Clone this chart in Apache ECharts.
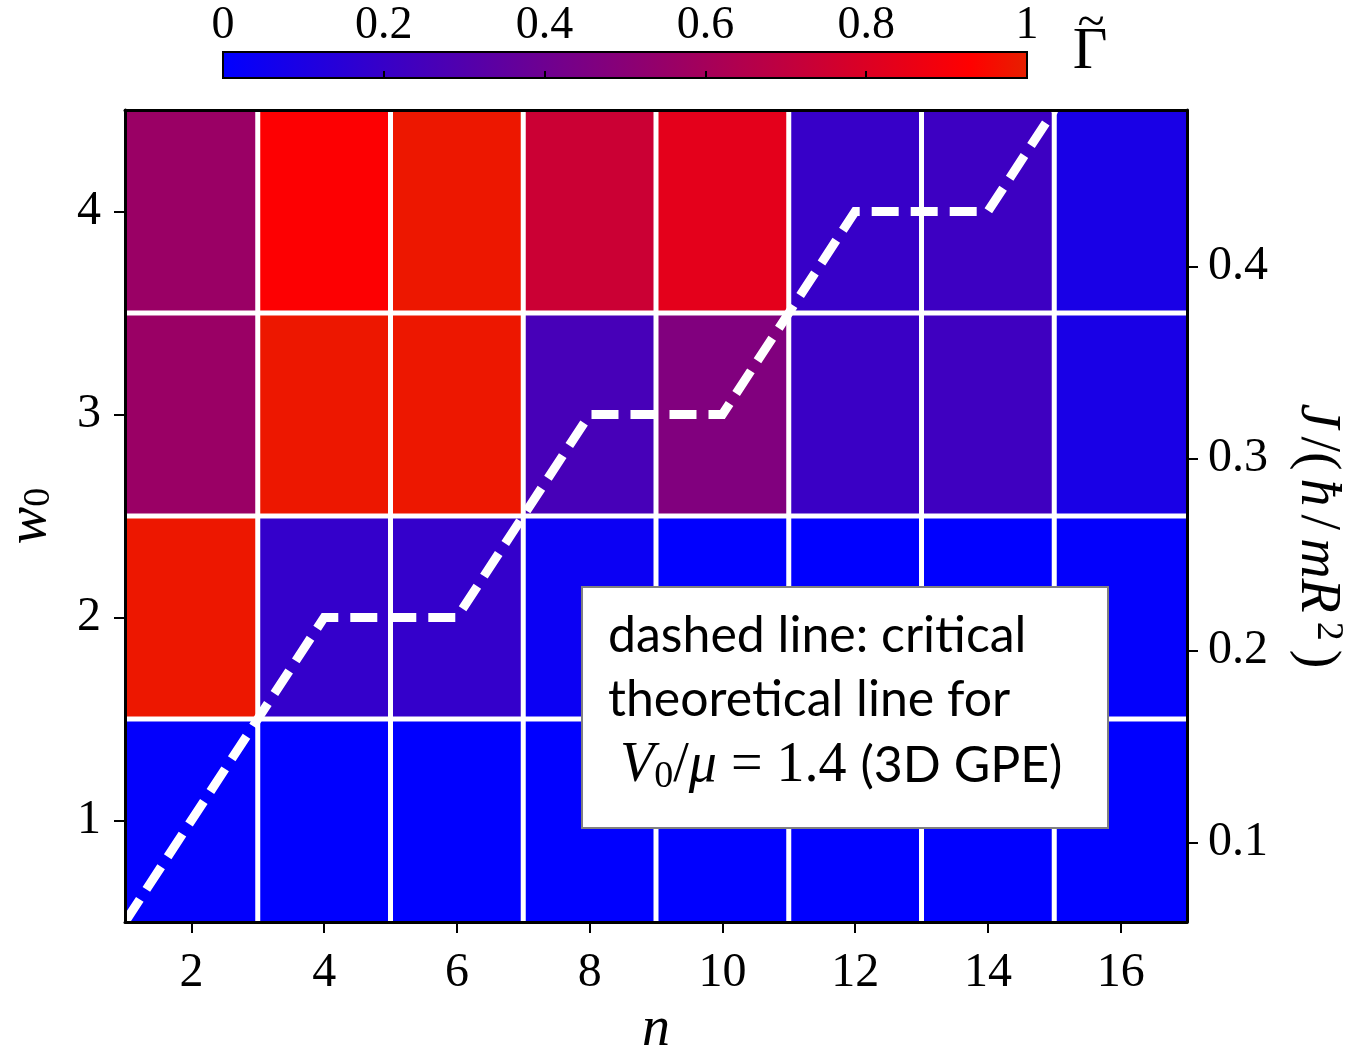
<!DOCTYPE html>
<html>
<head>
<meta charset="utf-8">
<script src="https://cdn.jsdelivr.net/npm/echarts@6/dist/echarts.min.js"></script>
<style>
html, body { margin: 0; padding: 0; background: #fff; }
#chart { width: 1350px; height: 1047px; }
</style>
</head>
<body>
<div id="chart"></div>
<script>
// cell centres
const nValues = [2, 4, 6, 8, 10, 12, 14, 16]
const w0Values = [1, 2, 3, 4]
// Gamma tilde per row of w0
const gammaW1 = [0.01, 0.0, 0.0, 0.0, 0.0, 0.0, 0.0, 0.0]
const gammaW2 = [0.98, 0.19, 0.19, 0.04, 0.005, 0.0, 0.0, 0.01]
const gammaW3 = [0.56, 0.98, 0.98, 0.26, 0.47, 0.21, 0.23, 0.09]
const gammaW4 = [0.56, 0.92, 0.98, 0.74, 0.83, 0.20, 0.22, 0.09]
// critical theoretical line, V0/mu = 1.4 (3D GPE)
const lineN = [1, 4, 6, 8, 10, 12, 14, 15]
const lineW0 = [0.5, 2, 2, 3, 3, 4, 4, 4.5]
// ticks
const xTicks = [2, 4, 6, 8, 10, 12, 14, 16]
const yTicks = [1, 2, 3, 4]
const jTicks = [0.1, 0.2, 0.3, 0.4]

const X_MIN = 1, X_MAX = 17, Y_MIN = 0.5, Y_MAX = 4.5
const SERIF = "'Liberation Serif', 'Times New Roman', serif"

// blue -> red, then a touch of orange at the very top
const cmap = []
for (let i = 0; i <= 13; i++) {
  const r = Math.round(255 * i / 13)
  cmap.push('rgb(' + r + ',0,' + (255 - r) + ')')
}
cmap.push('#e62000')

const gradient = new echarts.graphic.LinearGradient(0, 0, 1, 0,
  cmap.map((c, i) => ({ offset: i / (cmap.length - 1), color: c })))

const rows = [gammaW1, gammaW2, gammaW3, gammaW4]
const cells = []
rows.forEach((row, j) => {
  row.forEach((v, i) => cells.push([nValues[i], w0Values[j], v]))
})
const linePts = lineN.map((n, i) => [n, lineW0[i]])

function renderCell (params, api) {
  const n = api.value(0)
  const w = api.value(1)
  const p0 = api.coord([n - 1, w + 0.5])
  const p1 = api.coord([n + 1, w - 0.5])
  const gap = 2.5
  const l = n - 1 <= X_MIN ? p0[0] : p0[0] + gap
  const r = n + 1 >= X_MAX ? p1[0] : p1[0] - gap
  const t = w + 0.5 >= Y_MAX ? p0[1] : p0[1] + gap
  const b = w - 0.5 <= Y_MIN ? p1[1] : p1[1] - gap
  return {
    type: 'rect',
    shape: { x: l, y: t, width: r - l, height: b - t },
    style: { fill: api.visual('color') }
  }
}

function renderColorbar (params, api) {
  const a = api.coord([0, 1])
  const b = api.coord([1, 0])
  return {
    type: 'rect',
    shape: { x: a[0], y: a[1], width: b[0] - a[0], height: b[1] - a[1] },
    style: { fill: gradient, stroke: '#000', lineWidth: 2 }
  }
}

const tickFont = { fontFamily: SERIF, fontSize: 48, color: '#000' }
const frame = { show: true, lineStyle: { color: '#000', width: 3 } }
const ticks = (vals) => ({ show: true, customValues: vals, length: 11, lineStyle: { color: '#000', width: 2 } })

const option = {
  animation: false,
  backgroundColor: '#fff',
  textStyle: { fontFamily: SERIF },
  grid: [
    { left: 125, right: 163, top: 110, bottom: 125, outerBoundsMode: 'none' },
    { left: 223, width: 804, top: 52, height: 26, outerBoundsMode: 'none' }
  ],
  visualMap: {
    show: false,
    type: 'continuous',
    min: 0,
    max: 1,
    dimension: 2,
    seriesIndex: 0,
    inRange: { color: cmap }
  },
  xAxis: [
    {
      type: 'value', gridIndex: 0, min: X_MIN, max: X_MAX, z: 10,
      axisLine: frame,
      axisTick: ticks(xTicks),
      axisLabel: Object.assign({ customValues: xTicks, margin: 27 }, tickFont),
      splitLine: { show: false },
      name: 'n',
      nameLocation: 'middle',
      nameGap: 72,
      nameTextStyle: { fontFamily: SERIF, fontStyle: 'italic', fontSize: 56, color: '#000' }
    },
    {
      type: 'value', gridIndex: 0, position: 'top', min: X_MIN, max: X_MAX, z: 10,
      axisLine: frame,
      axisTick: { show: false },
      axisLabel: { show: false },
      splitLine: { show: false }
    },
    {
      type: 'value', gridIndex: 1, position: 'top', min: 0, max: 1, interval: 0.2, z: 10,
      axisLine: { show: false },
      axisTick: { show: true, length: 7, lineStyle: { color: '#000', width: 2 } },
      axisLabel: Object.assign({ margin: 3 }, tickFont, { fontSize: 46 }),
      splitLine: { show: false }
    }
  ],
  yAxis: [
    {
      type: 'value', gridIndex: 0, min: Y_MIN, max: Y_MAX, z: 10,
      axisLine: frame,
      axisTick: ticks(yTicks),
      axisLabel: Object.assign({ customValues: yTicks, margin: 24 }, tickFont),
      splitLine: { show: false },
      name: '{w|w}{s|0}',
      nameLocation: 'middle',
      nameGap: 67,
      nameTextStyle: {
        rich: {
          w: { fontFamily: SERIF, fontStyle: 'italic', fontSize: 56, lineHeight: 56, color: '#000' },
          s: { fontFamily: SERIF, fontSize: 38, lineHeight: 30, verticalAlign: 'bottom', color: '#000' }
        }
      }
    },
    {
      type: 'value', gridIndex: 0, position: 'right', min: 0.0585, max: 0.4815, z: 10,
      axisLine: frame,
      axisTick: ticks(jTicks),
      axisLabel: Object.assign({ customValues: jTicks, margin: 21, formatter: (v) => v.toFixed(1) }, tickFont),
      splitLine: { show: false },
      name: '{i|J}{u|/(}{i|ħ}{u|/}{i|mR}{p|2}{u|)}',
      nameLocation: 'middle',
      nameRotate: -90,
      nameGap: 100,
      nameTextStyle: {
        padding: [0, 0, 0, 40],
        rich: {
          i: { fontFamily: SERIF, fontStyle: 'italic', fontSize: 56, lineHeight: 60, color: '#000', padding: [0, 4] },
          u: { fontFamily: SERIF, fontSize: 56, lineHeight: 60, color: '#000', padding: [0, 4] },
          p: { fontFamily: SERIF, fontSize: 38, lineHeight: 28, verticalAlign: 'top', color: '#000', padding: [0, 5] }
        }
      }
    },
    {
      type: 'value', gridIndex: 1, min: 0, max: 1, show: false
    }
  ],
  series: [
    {
      type: 'custom',
      name: 'gamma',
      xAxisIndex: 0,
      yAxisIndex: 0,
      renderItem: renderCell,
      data: cells,
      clip: true,
      z: 2
    },
    {
      type: 'line',
      name: 'critical',
      xAxisIndex: 0,
      yAxisIndex: 0,
      data: linePts,
      symbol: 'none',
      clip: true,
      lineStyle: { color: '#fff', width: 9, type: [27, 12], cap: 'butt', join: 'miter' },
      z: 3
    },
    {
      type: 'custom',
      name: 'colorbar',
      xAxisIndex: 2,
      yAxisIndex: 2,
      renderItem: renderColorbar,
      data: [[0, 0]],
      z: 2
    }
  ],
  graphic: [
    // colorbar label, Gamma with a tilde
    {
      type: 'text', x: 1090, y: 52, z: 101,
      style: { text: 'Γ', fontFamily: SERIF, fontSize: 60, fill: '#000', align: 'center', verticalAlign: 'middle' }
    },
    {
      type: 'text', x: 1091, y: 24, z: 101,
      style: { text: '~', fontFamily: SERIF, fontSize: 50, fill: '#000', align: 'center', verticalAlign: 'middle' }
    },
    {
      type: 'rect',
      shape: { x: 582, y: 587, width: 526, height: 241 },
      style: { fill: '#fff', stroke: '#808080', lineWidth: 2 },
      z: 100
    },
    {
      type: 'text', x: 608, y: 636, z: 101,
      style: { text: 'dashed line: critical', fontFamily: 'Lato', fontSize: 50, fill: '#000', verticalAlign: 'middle' }
    },
    {
      type: 'text', x: 608, y: 700, z: 101,
      style: { text: 'theoretical line for', fontFamily: 'Lato', fontSize: 50, fill: '#000', verticalAlign: 'middle' }
    },
    {
      type: 'text', x: 620, y: 766, z: 101,
      style: {
        text: '{v|V}{sub|0}{m|/}{v|μ}{m| = 1.4 }{s|(3D GPE)}',
        verticalAlign: 'middle',
        rich: {
          v: { fontFamily: SERIF, fontStyle: 'italic', fontSize: 56, lineHeight: 60, fill: '#000' },
          sub: { fontFamily: SERIF, fontSize: 38, lineHeight: 34, verticalAlign: 'bottom', fill: '#000' },
          m: { fontFamily: SERIF, fontSize: 56, lineHeight: 60, fill: '#000' },
          s: { fontFamily: 'Lato', fontSize: 50, lineHeight: 60, fill: '#000' }
        }
      }
    }
  ]
}

const chart = echarts.init(document.getElementById('chart'))
chart.setOption(option)
window.addEventListener('resize', () => chart.resize())
</script>
</body>
</html>
